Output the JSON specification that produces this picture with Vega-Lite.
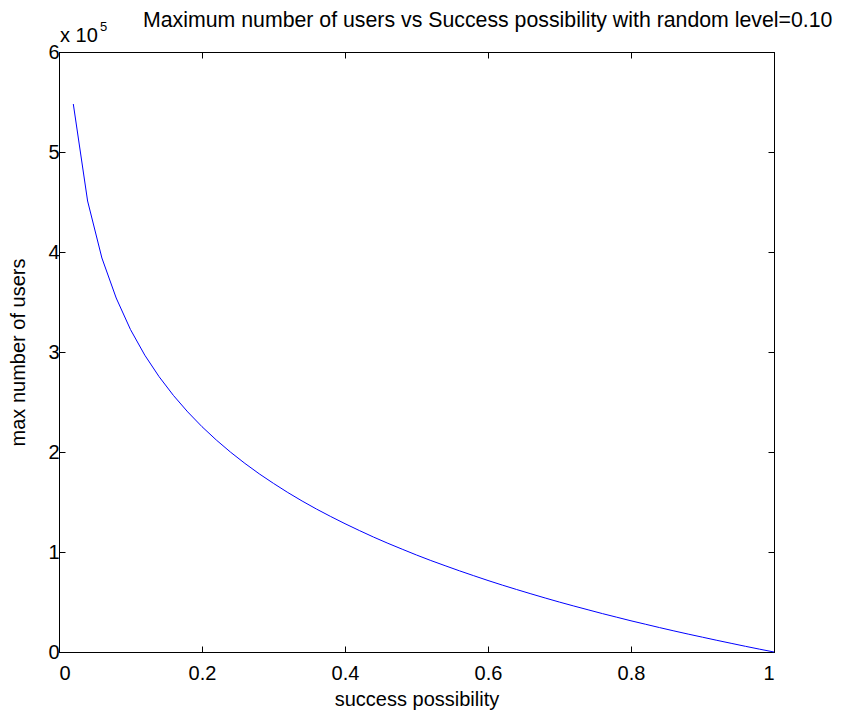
{
  "$schema": "https://vega.github.io/schema/vega-lite/v6.json",
  "width": 715,
  "height": 600,
  "autosize": {"type": "none"},
  "padding": {"left": 59, "top": 52, "right": 74, "bottom": 63},
  "background": "white",
  "config": {
    "font": "Liberation Sans",
    "view": {"stroke": "black", "strokeWidth": 1},
    "axis": {
      "grid": false,
      "domainColor": "black",
      "domainWidth": 1,
      "tickColor": "black",
      "tickSize": -6,
      "labelColor": "black",
      "labelFont": "Liberation Sans",
      "labelFontSize": 20,
      "titleFont": "Liberation Sans",
      "titleFontSize": 20,
      "titleFontWeight": "normal",
      "titleColor": "black"
    }
  },
  "title": {
    "text": "Maximum number of users vs Success possibility with random level=0.10",
    "anchor": "start",
    "frame": "group",
    "dx": 84,
    "offset": -27,
    "baseline": "alphabetic",
    "font": "Liberation Sans",
    "fontSize": 21.3,
    "fontWeight": "normal",
    "color": "black"
  },
  "data": {
    "values": [
      {"p": 0.02, "users": 548000},
      {"p": 0.04, "users": 451000},
      {"p": 0.06, "users": 394000},
      {"p": 0.08, "users": 354000},
      {"p": 0.10, "users": 322400},
      {"p": 0.12, "users": 296800},
      {"p": 0.14, "users": 275300},
      {"p": 0.16, "users": 256600},
      {"p": 0.18, "users": 240100},
      {"p": 0.20, "users": 225300},
      {"p": 0.22, "users": 212000},
      {"p": 0.24, "users": 199800},
      {"p": 0.26, "users": 188600},
      {"p": 0.28, "users": 178200},
      {"p": 0.30, "users": 168600},
      {"p": 0.32, "users": 159500},
      {"p": 0.34, "users": 151000},
      {"p": 0.36, "users": 143000},
      {"p": 0.38, "users": 135500},
      {"p": 0.40, "users": 128300},
      {"p": 0.42, "users": 121500},
      {"p": 0.44, "users": 114900},
      {"p": 0.46, "users": 108700},
      {"p": 0.48, "users": 102800},
      {"p": 0.50, "users": 97000},
      {"p": 0.52, "users": 91500},
      {"p": 0.54, "users": 86300},
      {"p": 0.56, "users": 81200},
      {"p": 0.58, "users": 76300},
      {"p": 0.60, "users": 71500},
      {"p": 0.62, "users": 66900},
      {"p": 0.64, "users": 62500},
      {"p": 0.66, "users": 58200},
      {"p": 0.68, "users": 54000},
      {"p": 0.70, "users": 49900},
      {"p": 0.72, "users": 46000},
      {"p": 0.74, "users": 42200},
      {"p": 0.76, "users": 38400},
      {"p": 0.78, "users": 34800},
      {"p": 0.80, "users": 31200},
      {"p": 0.82, "users": 27800},
      {"p": 0.84, "users": 24400},
      {"p": 0.86, "users": 21100},
      {"p": 0.88, "users": 17900},
      {"p": 0.90, "users": 14800},
      {"p": 0.92, "users": 11700},
      {"p": 0.94, "users": 8700},
      {"p": 0.96, "users": 5700},
      {"p": 0.98, "users": 2800},
      {"p": 1.00, "users": 0}
    ]
  },
  "layer": [
    {
      "mark": {"type": "line", "color": "#0000FF", "strokeWidth": 1},
      "encoding": {
        "x": {
          "field": "p",
          "type": "quantitative",
          "scale": {"domain": [0, 1], "nice": false, "zero": false},
          "axis": {
            "orient": "bottom",
            "values": [0, 0.2, 0.4, 0.6, 0.8, 1],
            "format": "~g",
            "labelPadding": 17,
            "title": "success possibility",
            "titlePadding": 6
          }
        },
        "y": {
          "field": "users",
          "type": "quantitative",
          "scale": {"domain": [0, 600000], "nice": false},
          "axis": {
            "orient": "left",
            "values": [0, 100000, 200000, 300000, 400000, 500000, 600000],
            "labelExpr": "format(datum.value / 100000, 'd')",
            "labelPadding": 6,
            "title": "max number of users",
            "titlePadding": 19
          }
        }
      }
    },
    {
      "mark": {"type": "line", "opacity": 0},
      "encoding": {
        "x": {
          "field": "p",
          "type": "quantitative",
          "axis": {
            "orient": "top",
            "values": [0, 0.2, 0.4, 0.6, 0.8, 1],
            "labels": false,
            "title": null
          }
        },
        "y": {
          "field": "users",
          "type": "quantitative",
          "axis": {
            "orient": "right",
            "values": [0, 100000, 200000, 300000, 400000, 500000, 600000],
            "labels": false,
            "title": null
          }
        }
      }
    },
    {
      "data": {"values": [{"label": "x 10"}]},
      "mark": {"type": "text", "align": "left", "baseline": "alphabetic", "dx": 1, "dy": -10, "fontSize": 20, "font": "Liberation Sans", "color": "black"},
      "encoding": {
        "text": {"field": "label"},
        "x": {"datum": 0, "type": "quantitative", "axis": null},
        "y": {"datum": 600000, "type": "quantitative", "axis": null}
      }
    },
    {
      "data": {"values": [{"label": "5"}]},
      "mark": {"type": "text", "align": "left", "baseline": "alphabetic", "dx": 41, "dy": -21, "fontSize": 13, "font": "Liberation Sans", "color": "black"},
      "encoding": {
        "text": {"field": "label"},
        "x": {"datum": 0, "type": "quantitative", "axis": null},
        "y": {"datum": 600000, "type": "quantitative", "axis": null}
      }
    }
  ],
  "resolve": {"axis": {"x": "independent", "y": "independent"}}
}
